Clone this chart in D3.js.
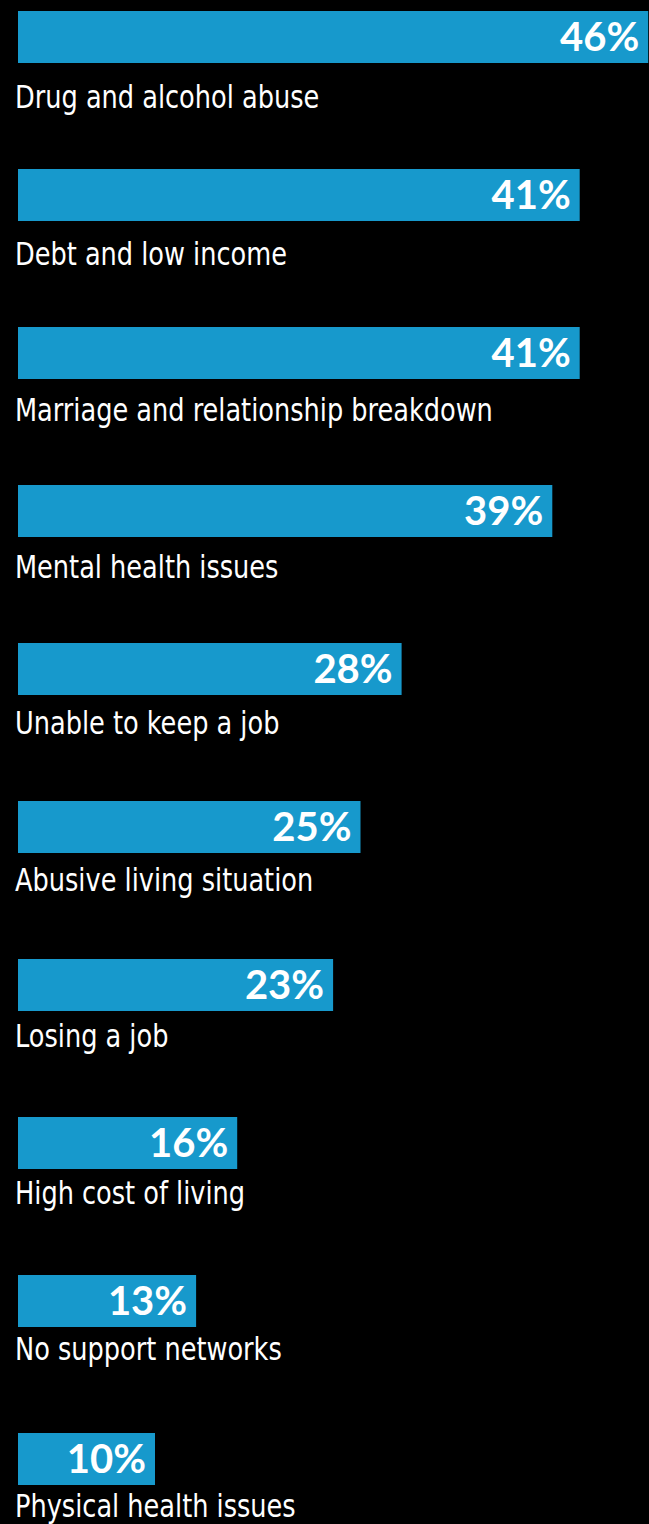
<!DOCTYPE html>
<html>
<head>
<meta charset="utf-8">
<script src="https://cdn.jsdelivr.net/npm/d3@7"></script>
<style>
  html, body { margin: 0; padding: 0; background: #000; }
  svg { display: block; }
</style>
</head>
<body>
<div id="chart-area"></div>
<script>
const categories = [
  "Drug and alcohol abuse",
  "Debt and low income",
  "Marriage and relationship breakdown",
  "Mental health issues",
  "Unable to keep a job",
  "Abusive living situation",
  "Losing a job",
  "High cost of living",
  "No support networks",
  "Physical health issues"
]
const values = [46, 41, 41, 39, 28, 25, 23, 16, 13, 10]

const WIDTH = 649
const HEIGHT = 1524
const BAR_H = 52
const BLUE = "#1799cc"
const LABEL_SQUEEZE = 0.89

const svg = d3.select("#chart-area").append("svg")
  .attr("width", WIDTH)
  .attr("height", HEIGHT)

svg.append("rect")
  .attr("width", WIDTH)
  .attr("height", HEIGHT)
  .attr("fill", "#000")

const x = d3.scaleLinear()
  .domain([0, 100])
  .range([18, 1388])

const y = d3.scaleBand()
  .domain(categories)
  .range([11, 1485])
  .paddingInner(1 - BAR_H / 158)
  .paddingOuter(0)

// labels sit on a slightly tighter rhythm than the bars
const yLabel = d3.scalePoint()
  .domain(categories)
  .range([108, 1517])

const data = categories.map((c, i) => ({ cat: c, value: values[i] }))

const rows = svg.selectAll("g.row")
  .data(data)
  .enter().append("g")
  .attr("class", "row")

rows.append("rect")
  .attr("x", x(0))
  .attr("y", d => y(d.cat))
  .attr("width", d => x(d.value) - x(0))
  .attr("height", y.bandwidth())
  .attr("fill", BLUE)

rows.append("text")
  .attr("x", d => x(d.value) - 9)
  .attr("y", d => y(d.cat) + y.bandwidth() / 2 + 14)
  .attr("text-anchor", "end")
  .attr("font-family", "Lato, 'Open Sans', sans-serif")
  .attr("font-weight", "bold")
  .attr("font-size", "40px")
  .attr("fill", "#fff")
  .text(d => d.value + "%")

// narrow label face: condensed font squeezed horizontally
rows.append("text")
  .attr("transform", d => `translate(15, ${yLabel(d.cat)}) scale(${LABEL_SQUEEZE}, 1)`)
  .attr("font-family", "'DejaVu Sans Condensed', sans-serif")
  .attr("font-size", "32px")
  .attr("fill", "#fff")
  .text(d => d.cat)
</script>
</body>
</html>
